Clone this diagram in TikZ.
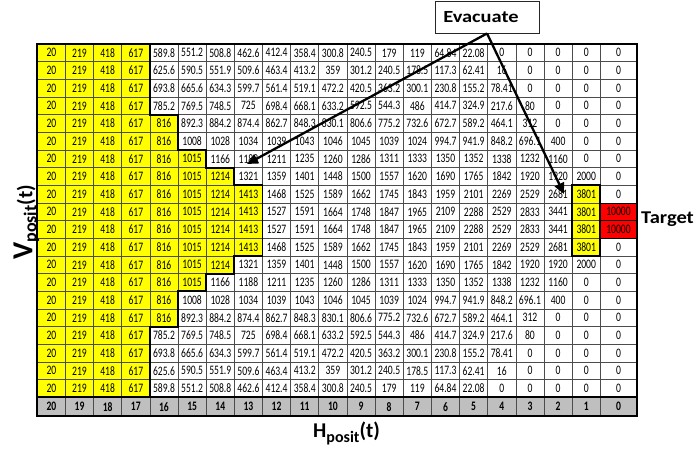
\documentclass[tikz,border=0pt]{standalone}
\usepackage{fontspec}
\setmainfont{Carlito}
\usetikzlibrary{arrows.meta}
\definecolor{cellyellow}{HTML}{FFFF00}
\definecolor{cellred}{HTML}{FF0000}
\definecolor{headgray}{HTML}{BFBFBF}
\tikzset{
  cellnum/.style={inner sep=0pt, font=\fontsize{9.6}{10}\selectfont},
  headnum/.style={inner sep=0pt, font=\fontsize{9.6}{10}\selectfont\bfseries},
  thinline/.style={draw=black!70, line width=0.7pt},
  thickline/.style={draw=black, line width=1.9pt},
  callout/.style={draw=black!85, line width=0.9pt, fill=white, minimum width=104pt, minimum height=32pt, inner sep=0pt},
  pointer/.style={line width=2.3pt, -{Triangle[length=11pt,width=10pt]}},
  bigtext/.style={inner sep=0pt, font=\bfseries},
}
\begin{document}
\begin{tikzpicture}[x=1pt,y=-1pt]
\useasboundingbox (0,0) rectangle (700,451);
% fills
\fill[cellyellow] (37.3,44) -- (149.9,44) -- (149.9,114.66) -- (178.05,114.66) -- (178.05,149.99) -- (206.2,149.99) -- (206.2,167.66) -- (234.35,167.66) -- (234.35,185.32) -- (262.5,185.32) -- (262.5,255.98) -- (234.35,255.98) -- (234.35,273.65) -- (206.2,273.65) -- (206.2,291.31) -- (178.05,291.31) -- (178.05,326.64) -- (149.9,326.64) -- (149.9,397.3) -- (37.3,397.3) -- cycle;
\fill[cellyellow] (572.15,185.32) rectangle (600.3,255.98);
\fill[cellred] (600.3,202.99) rectangle (636.7,238.32);
\fill[headgray] (37.3,397.3) rectangle (636.7,416);
% thin grid
\foreach \j in {1,...,20} {
  \draw[thinline] ({37.3+28.15*\j},44) -- ({37.3+28.15*\j},416);
}
\foreach \i in {1,...,19} {
  \draw[thinline] (37.3,{44+17.665*\i}) -- (636.7,{44+17.665*\i});
}
\draw[draw=black, line width=0.9pt] (600.3,202.99) rectangle (636.7,238.32);
\draw[draw=black, line width=0.9pt] (600.3,220.65) -- (636.7,220.65);
% numbers
\foreach \vals [count=\r] in {
{20,219,418,617,589.8,551.2,508.8,462.6,412.4,358.4,300.8,240.5,179,119,64.84,22.08,0,0,0,0,0},
{20,219,418,617,625.6,590.5,551.9,509.6,463.4,413.2,359,301.2,240.5,178.5,117.3,62.41,16,0,0,0,0},
{20,219,418,617,693.8,665.6,634.3,599.7,561.4,519.1,472.2,420.5,363.2,300.1,230.8,155.2,78.41,0,0,0,0},
{20,219,418,617,785.2,769.5,748.5,725,698.4,668.1,633.2,592.5,544.3,486,414.7,324.9,217.6,80,0,0,0},
{20,219,418,617,816,892.3,884.2,874.4,862.7,848.3,830.1,806.6,775.2,732.6,672.7,589.2,464.1,312,0,0,0},
{20,219,418,617,816,1008,1028,1034,1039,1043,1046,1045,1039,1024,994.7,941.9,848.2,696.1,400,0,0},
{20,219,418,617,816,1015,1166,1188,1211,1235,1260,1286,1311,1333,1350,1352,1338,1232,1160,0,0},
{20,219,418,617,816,1015,1214,1321,1359,1401,1448,1500,1557,1620,1690,1765,1842,1920,1920,2000,0},
{20,219,418,617,816,1015,1214,1413,1468,1525,1589,1662,1745,1843,1959,2101,2269,2529,2681,3801,0},
{20,219,418,617,816,1015,1214,1413,1527,1591,1664,1748,1847,1965,2109,2288,2529,2833,3441,3801,10000},
{20,219,418,617,816,1015,1214,1413,1527,1591,1664,1748,1847,1965,2109,2288,2529,2833,3441,3801,10000},
{20,219,418,617,816,1015,1214,1413,1468,1525,1589,1662,1745,1843,1959,2101,2269,2529,2681,3801,0},
{20,219,418,617,816,1015,1214,1321,1359,1401,1448,1500,1557,1620,1690,1765,1842,1920,1920,2000,0},
{20,219,418,617,816,1015,1166,1188,1211,1235,1260,1286,1311,1333,1350,1352,1338,1232,1160,0,0},
{20,219,418,617,816,1008,1028,1034,1039,1043,1046,1045,1039,1024,994.7,941.9,848.2,696.1,400,0,0},
{20,219,418,617,816,892.3,884.2,874.4,862.7,848.3,830.1,806.6,775.2,732.6,672.7,589.2,464.1,312,0,0,0},
{20,219,418,617,785.2,769.5,748.5,725,698.4,668.1,633.2,592.5,544.3,486,414.7,324.9,217.6,80,0,0,0},
{20,219,418,617,693.8,665.6,634.3,599.7,561.4,519.1,472.2,420.5,363.2,300.1,230.8,155.2,78.41,0,0,0,0},
{20,219,418,617,625.6,590.5,551.9,509.6,463.4,413.2,359,301.2,240.5,178.5,117.3,62.41,16,0,0,0,0},
{20,219,418,617,589.8,551.2,508.8,462.6,412.4,358.4,300.8,240.5,179,119,64.84,22.08,0,0,0,0,0}} {
  \foreach \v [count=\c] in \vals {
    \ifnum\c=21 \def\cx{618.5}\else\pgfmathsetmacro\cx{37.3+28.15*(\c-0.5)}\fi
    \pgfmathsetmacro\cy{44+17.665*(\r-0.5)}
    \node[cellnum] (cell-\r-\c) at (\cx,\cy) {\scalebox{1}[1.35]{\v}};
  }
}
\foreach \lab [count=\c] in {20,19,...,0} {
  \ifnum\c=21 \def\cx{618.5}\else\pgfmathsetmacro\cx{37.3+28.15*(\c-0.5)}\fi
  \node[headnum] (head-\c) at (\cx,406.65) {\scalebox{1}[1.35]{\lab}};
}
% thick borders
\draw[thickline] (37.3,44) rectangle (636.7,416);
\draw[thickline] (37.3,397.3) -- (636.7,397.3);
\draw[thickline] (149.9,44) -- (149.9,114.66) -- (178.05,114.66) -- (178.05,149.99) -- (206.2,149.99) -- (206.2,167.66) -- (234.35,167.66) -- (234.35,185.32) -- (262.5,185.32) -- (262.5,255.98) -- (234.35,255.98) -- (234.35,273.65) -- (206.2,273.65) -- (206.2,291.31) -- (178.05,291.31) -- (178.05,326.64) -- (149.9,326.64) -- (149.9,397.3);
\draw[thickline] (572.15,185.32) rectangle (600.3,255.98);
% labels
\node[callout] (evac) at (487,17) {\hspace*{-12pt}\scalebox{1.2}[1]{\fontsize{17}{17}\selectfont\bfseries Evacuate}};
\coordinate (tipA) at (247,164);
\coordinate (tipB) at (564,194);
\draw[pointer] (evac.south) -- (tipA);
\draw[pointer] (evac.south) -- (tipB);
\node[bigtext, anchor=base west] (target) at (641,223.3) {\scalebox{1.14}[1]{\fontsize{18}{18}\selectfont\bfseries Target}};
\node[bigtext, anchor=base west] (hlab) at (313,437.7) {\fontsize{21}{21}\selectfont\bfseries H\raisebox{-5pt}{\fontsize{16}{16}\selectfont posit}(t)};
\node[bigtext, anchor=base west, rotate=90] (vlab) at (32.3,260) {\fontsize{29}{29}\selectfont\bfseries V\raisebox{-4pt}{\fontsize{18}{18}\selectfont posit}{\fontsize{21}{21}\selectfont(t)}};
\end{tikzpicture}
\end{document}
